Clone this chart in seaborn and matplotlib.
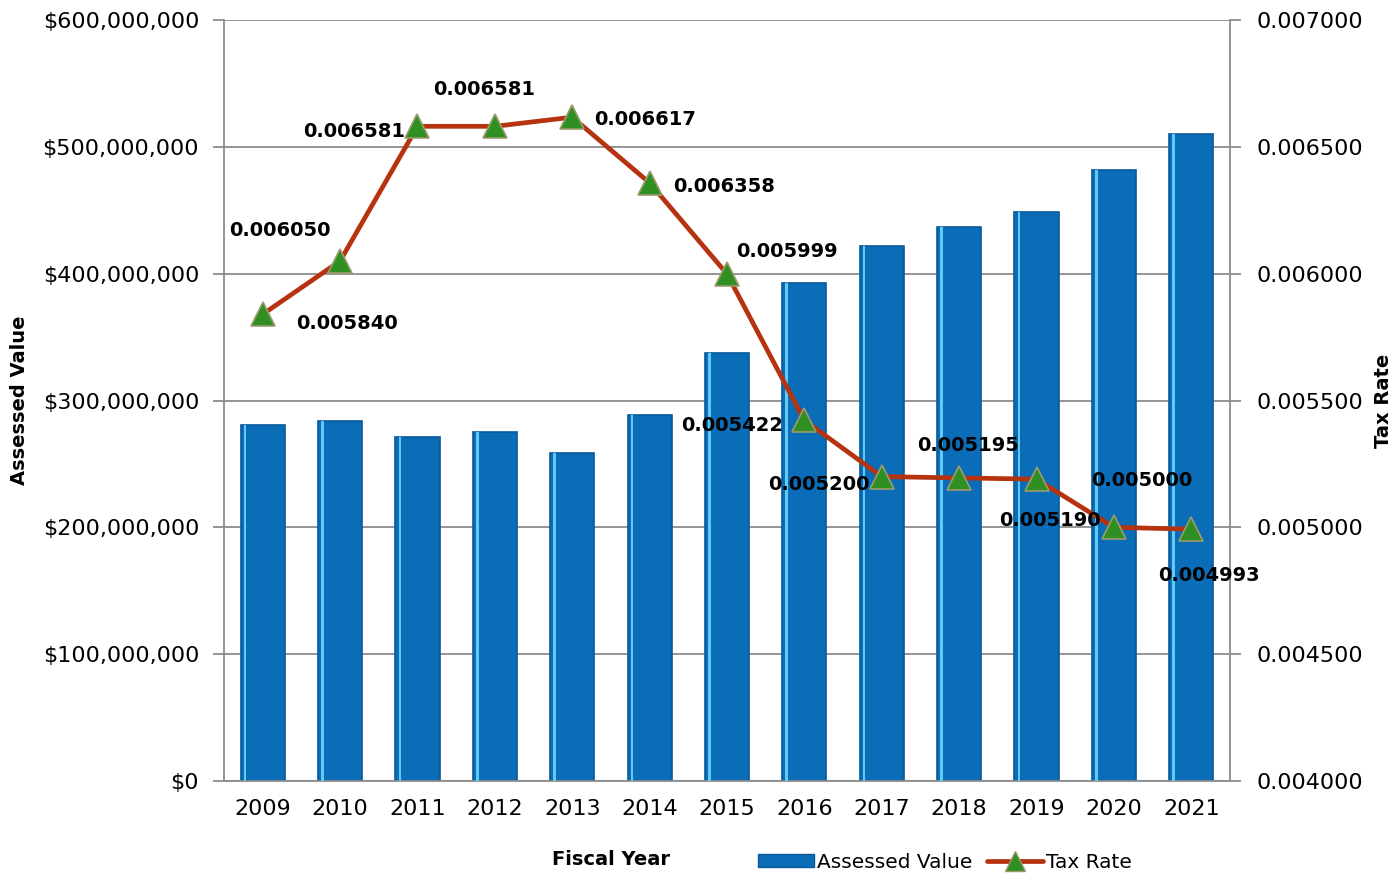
import pandas as pd
import matplotlib.pyplot as plt
import seaborn as sns
from matplotlib.patches import Rectangle
from matplotlib.lines import Line2D
from matplotlib.ticker import FuncFormatter, MultipleLocator

# Dados
anos = ['2009', '2010', '2011', '2012', '2013', '2014', '2015',
        '2016', '2017', '2018', '2019', '2020', '2021']
valor_avaliado = [280.5e6, 283.5e6, 271e6, 275.5e6, 258.5e6, 288.5e6, 337.5e6,
                  392.5e6, 422e6, 437e6, 449e6, 482e6, 510.5e6]
taxa = [0.005840, 0.006050, 0.006581, 0.006581, 0.006617, 0.006358, 0.005999,
        0.005422, 0.005200, 0.005195, 0.005190, 0.005000, 0.004993]

# deslocamento dos rótulos (pixels) em relação a cada ponto
desloc_rotulos = [(84, -9), (-60, 31), (-63, -5), (-11, 37), (73, -2), (74, -4), (60, 22),
                  (-72, -5), (-63, -8), (9, 32), (13, -41), (28, 47), (18, -46)]

sns.set_style('white')
plt.rcParams['font.family'] = ['DejaVu Sans']
plt.rcParams.update({'text.color': 'black', 'axes.labelcolor': 'black',
                     'xtick.labelcolor': 'black', 'ytick.labelcolor': 'black'})

df = pd.DataFrame({'ano': anos, 'valor': valor_avaliado, 'taxa': taxa})

AZUL = '#0B6DB7'
VERMELHO = '#B5330F'
VERDE = '#2F8F22'
CINZA = '#8C8C8C'

fig = plt.figure(figsize=(13.95, 8.75), dpi=100)
ax = fig.add_axes([0.1606, 0.1074, 0.7211, 0.8697])

sns.barplot(data=df, x='ano', y='valor', color=AZUL, width=0.57, saturation=1,
            edgecolor='#085A9C', linewidth=1.2, ax=ax, zorder=2)

# brilho na borda esquerda das barras
for p in list(ax.patches):
    w = p.get_width()
    ax.add_patch(Rectangle((p.get_x() + w * 0.07, p.get_y()), w * 0.06, p.get_height(),
                           facecolor='#62CBF5', edgecolor='none', zorder=3))

ax.set_ylim(0, 600e6)
ax.yaxis.set_major_locator(MultipleLocator(100e6))
ax.yaxis.set_major_formatter(FuncFormatter(lambda v, _: f'${v:,.0f}'))
ax.grid(axis='y', color=CINZA, linewidth=1.3)
ax.set_axisbelow(True)
ax.set_xlim(-0.5, len(anos) - 0.5)
ax.set_xticks(range(len(anos)))
ax.set_xticks([i + 0.5 for i in range(len(anos))], minor=True)
ax.tick_params(axis='x', which='major', length=0, labelsize=16, pad=13)
ax.tick_params(axis='x', which='minor', length=7, color=CINZA, width=1.3)
ax.tick_params(axis='y', length=8, color=CINZA, width=1.3, labelsize=16, pad=10)
for s in ['left', 'bottom']:
    ax.spines[s].set_color(CINZA)
    ax.spines[s].set_linewidth(1.3)
ax.spines['top'].set_visible(False)
ax.spines['right'].set_visible(False)
ax.set_xlabel('Fiscal Year', fontsize=14, fontweight='bold')
ax.xaxis.set_label_coords(0.385, -0.091)
ax.set_ylabel('Assessed Value', fontsize=14, fontweight='bold')
ax.yaxis.set_label_coords(-0.194, 0.5)

ax2 = ax.twinx()
sns.lineplot(data=df, x='ano', y='taxa', color=VERMELHO, linewidth=3.4, marker='^',
             markersize=17, markerfacecolor=VERDE, markeredgecolor='#9C9B6E',
             markeredgewidth=1.2, ax=ax2, zorder=5)
ax2.set_ylim(0.004, 0.007)
ax2.yaxis.set_major_locator(MultipleLocator(0.0005))
ax2.yaxis.set_major_formatter(FuncFormatter(lambda v, _: f'{v:.6f}'))
ax2.tick_params(axis='y', length=8, color=CINZA, width=1.3, labelsize=16, pad=11)
for s in ['left', 'top', 'bottom']:
    ax2.spines[s].set_visible(False)
ax2.spines['right'].set_color(CINZA)
ax2.spines['right'].set_linewidth(1.3)
ax2.set_ylabel('Tax Rate', fontsize=14, fontweight='bold', rotation=90)
ax2.yaxis.set_label_coords(1.143, 0.5)
ax2.grid(False)

for i, (t, (dx, dy)) in enumerate(zip(taxa, desloc_rotulos)):
    ax2.annotate(f'{t:.6f}', (i, t), xytext=(dx, dy), textcoords='offset pixels',
                 ha='center', va='center', fontsize=14, fontweight='bold', zorder=6)

handles = [Rectangle((0, 0), 1, 1, facecolor=AZUL, edgecolor='#085A9C'),
           Line2D([], [], color=VERMELHO, linewidth=3.4, marker='^', markersize=15,
                  markerfacecolor=VERDE, markeredgecolor='#9C9B6E')]
fig.legend(handles, ['Assessed Value', 'Tax Rate'], loc='center',
           bbox_to_anchor=(945 / 1395, 1 - 862 / 875), ncol=2, frameon=False,
           fontsize=14.5, handlelength=2.8, handleheight=0.6, handletextpad=0.15,
           columnspacing=0.7)

plt.savefig('out.png', dpi=100)
